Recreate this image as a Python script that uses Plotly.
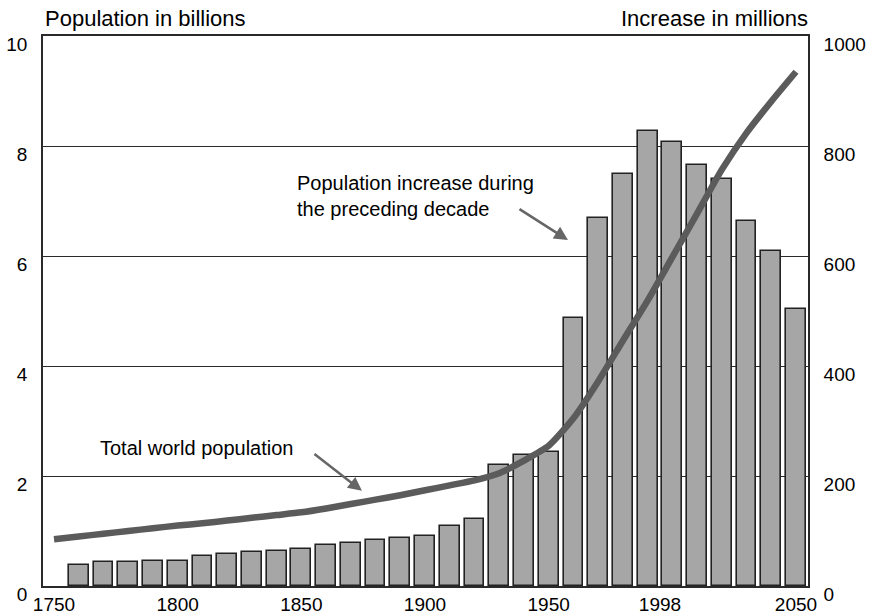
import plotly.graph_objects as go

# Population increase during the preceding decade (millions), one bar per decade
bar_years = [1760, 1770, 1780, 1790, 1800, 1810, 1820, 1830, 1840, 1850,
             1860, 1870, 1880, 1890, 1900, 1910, 1920, 1930, 1940, 1950,
             1960, 1970, 1980, 1990, 2000, 2010, 2020, 2030, 2040, 2050]
increase_millions = [39, 43, 43, 45, 46, 54, 58, 61, 64, 67,
                     75, 79, 83, 87, 91, 110, 121, 220, 238, 243,
                     487, 670, 750, 828, 807, 765, 740, 664, 609, 503]

# Total world population (billions)
pop_years = [1750, 1760, 1770, 1780, 1790, 1800, 1810, 1820, 1830, 1840,
             1850, 1860, 1870, 1880, 1890, 1900, 1910, 1920, 1930, 1940,
             1950, 1960, 1970, 1980, 1990, 2000, 2010, 2020, 2030, 2040, 2050]
population_billions = [0.85, 0.90, 0.95, 1.00, 1.05, 1.10, 1.14, 1.19, 1.24, 1.29,
                       1.34, 1.41, 1.49, 1.57, 1.65, 1.74, 1.83, 1.92, 2.05, 2.28,
                       2.55, 3.05, 3.72, 4.46, 5.19, 5.98, 6.77, 7.57, 8.24, 8.81, 9.35]

x_tick_vals = [1750, 1800, 1850, 1900, 1950, 1995, 2050]
x_tick_text = ["1750", "1800", "1850", "1900", "1950", "1998", "2050"]
left_ticks = [0, 2, 4, 6, 8, 10]
right_ticks = [0, 200, 400, 600, 800, 1000]

FONT = "Liberation Sans, Arial, Helvetica, sans-serif"
DARK = "#2a2a2a"
TXT = "#000000"

fig = go.Figure()

fig.add_trace(go.Bar(
    x=bar_years, y=increase_millions, yaxis="y",
    width=8,
    marker=dict(color="#a6a6a6", line=dict(color="#222222", width=1.6)),
    name="Population increase during the preceding decade",
))

fig.add_trace(go.Scatter(
    x=pop_years, y=population_billions, yaxis="y2",
    mode="lines", line=dict(color="#5b5b5b", width=6.5, shape="spline", smoothing=0.6),
    name="Total world population",
))

fig.update_layout(
    width=872, height=614,
    margin=dict(l=43, r=64, t=36, b=28),
    paper_bgcolor="white", plot_bgcolor="white",
    showlegend=False,
    bargap=0,
    font=dict(family=FONT, size=19, color=TXT),
    xaxis=dict(
        range=[1745.55, 2054.85], automargin=False,
        tickvals=x_tick_vals, ticktext=x_tick_text,
        showgrid=False, zeroline=False,
        showline=True, linecolor=DARK, linewidth=1.6, mirror=True,
        ticks="", ticklabelstandoff=0,
        tickfont=dict(family=FONT, size=19, color=TXT),
    ),
    yaxis=dict(
        side="right", range=[0, 1000], tickvals=right_ticks, automargin=False,
        showgrid=True, gridcolor=DARK, gridwidth=1.4,
        zeroline=False,
        showline=True, linecolor=DARK, linewidth=1.6,
        ticks="", ticklabelshift=8, ticklabelstandoff=10,
        tickfont=dict(family=FONT, size=19, color=TXT),
    ),
    yaxis2=dict(
        overlaying="y", side="left", range=[0, 10], tickvals=left_ticks, automargin=False,
        showgrid=False, zeroline=False,
        showline=True, linecolor=DARK, linewidth=1.6,
        ticks="", ticklabelshift=8, ticklabelstandoff=10,
        tickfont=dict(family=FONT, size=19, color=TXT),
    ),
)

annotations = [
    dict(text="Population in billions", xref="paper", yref="paper",
         x=0, y=1.031, xanchor="left", yanchor="middle", showarrow=False,
         font=dict(family=FONT, size=22, color=TXT)),
    dict(text="Increase in millions", xref="paper", yref="paper",
         x=1.003, y=1.031, xanchor="right", yanchor="middle", showarrow=False,
         font=dict(family=FONT, size=22, color=TXT)),
    dict(text="Total world population", xref="x", yref="y2",
         x=1767.8, y=2.51, xanchor="left", yanchor="middle", showarrow=False,
         font=dict(family=FONT, size=20, color=TXT)),
    dict(text="Population increase during<br>the preceding decade", xref="x", yref="y2",
         x=1847.4, y=7.09, xanchor="left", yanchor="middle", align="left",
         showarrow=False, font=dict(family=FONT, size=20, color=TXT)),
    dict(text="", xref="x", yref="y2", x=1874.5, y=1.73,
         axref="x", ayref="y2", ax=1854.7, ay=2.42,
         showarrow=True, arrowhead=2, arrowsize=1.1, arrowwidth=2.5, arrowcolor="#666666"),
    dict(text="", xref="x", yref="y2", x=1957.8, y=6.29,
         axref="x", ayref="y2", ax=1937.6, ay=6.87,
         showarrow=True, arrowhead=2, arrowsize=1.1, arrowwidth=2.5, arrowcolor="#666666"),
]
fig.update_layout(annotations=annotations)

fig.write_html("out.html", config={"displayModeBar": False},
               post_script="document.body.style.margin='0px';")
